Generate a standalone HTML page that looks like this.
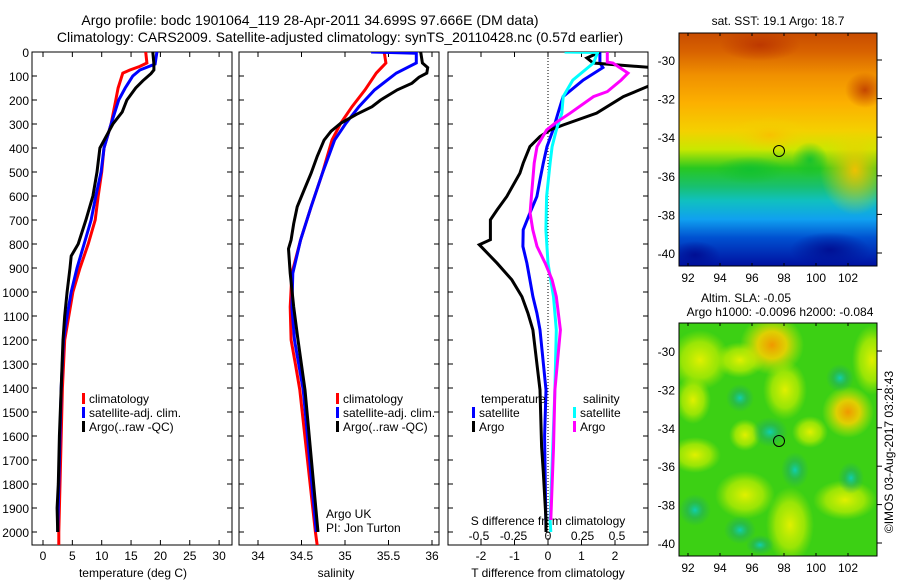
<!DOCTYPE html>
<html><head><meta charset="utf-8">
<style>
html,body{margin:0;padding:0;background:#fff;}
svg{display:block;font-family:"Liberation Sans",sans-serif;}
text{fill:#000;}
</style></head>
<body>
<svg id="fig" width="900" height="580" viewBox="0 0 900 580" xmlns="http://www.w3.org/2000/svg">
<defs>
<linearGradient id="sstg" x1="0" y1="0" x2="0" y2="1">
<stop offset="0" stop-color="#c84c00"/><stop offset="0.08" stop-color="#d86200"/>
<stop offset="0.18" stop-color="#f09000"/><stop offset="0.3" stop-color="#fcb000"/>
<stop offset="0.42" stop-color="#f4d000"/><stop offset="0.5" stop-color="#c8e800"/>
<stop offset="0.58" stop-color="#28c820"/><stop offset="0.66" stop-color="#18c070"/>
<stop offset="0.72" stop-color="#10c0c0"/><stop offset="0.8" stop-color="#10a0f0"/>
<stop offset="0.88" stop-color="#0050d0"/><stop offset="1" stop-color="#0010a0"/>
</linearGradient>
<radialGradient id="ylw"><stop offset="0" stop-color="#e0f000" stop-opacity="1"/><stop offset="0.6" stop-color="#c0ee00" stop-opacity="0.7"/><stop offset="1" stop-color="#a0e800" stop-opacity="0"/></radialGradient>
<radialGradient id="org"><stop offset="0" stop-color="#f09800" stop-opacity="1"/><stop offset="0.45" stop-color="#f0d000" stop-opacity="0.9"/><stop offset="1" stop-color="#d0f000" stop-opacity="0"/></radialGradient>
<radialGradient id="teal"><stop offset="0" stop-color="#10d0b0" stop-opacity="1"/><stop offset="0.5" stop-color="#20b060" stop-opacity="0.6"/><stop offset="1" stop-color="#20b060" stop-opacity="0"/></radialGradient>
<radialGradient id="ylsst"><stop offset="0" stop-color="#f8c000" stop-opacity="0.95"/><stop offset="1" stop-color="#f0d800" stop-opacity="0"/></radialGradient>
<radialGradient id="grsst"><stop offset="0" stop-color="#10c030" stop-opacity="0.9"/><stop offset="1" stop-color="#10c030" stop-opacity="0"/></radialGradient>
<radialGradient id="rdsst"><stop offset="0" stop-color="#b83000" stop-opacity="0.8"/><stop offset="1" stop-color="#b83000" stop-opacity="0"/></radialGradient>
<radialGradient id="dbsst"><stop offset="0" stop-color="#000c90" stop-opacity="0.9"/><stop offset="1" stop-color="#000c90" stop-opacity="0"/></radialGradient>
<clipPath id="c1"><rect x="32" y="52" width="200" height="493"/></clipPath>
<clipPath id="c2"><rect x="239" y="52" width="200" height="493"/></clipPath>
<clipPath id="c3"><rect x="448" y="52" width="200" height="493"/></clipPath>
<clipPath id="cm1"><rect x="679" y="33" width="198" height="233"/></clipPath>
<clipPath id="cm2"><rect x="679" y="323" width="198" height="233"/></clipPath>
</defs>

<text x="310" y="25" font-size="14" text-anchor="middle">Argo profile: bodc 1901064_119 28-Apr-2011 34.699S 97.666E (DM data)</text>
<text x="340" y="42" font-size="14" text-anchor="middle">Climatology: CARS2009. Satellite-adjusted climatology: synTS_20110428.nc (0.57d earlier)</text>

<g>
<g clip-path="url(#cm1)">
<rect x="679" y="33" width="198" height="233" fill="url(#sstg)"/>
<ellipse cx="855" cy="170" rx="35" ry="45" fill="url(#ylsst)"/>
<ellipse cx="770" cy="135" rx="40" ry="18" fill="url(#ylsst)"/>
<ellipse cx="750" cy="170" rx="35" ry="14" fill="url(#grsst)"/>
<ellipse cx="810" cy="160" rx="18" ry="18" fill="url(#grsst)"/>
<ellipse cx="760" cy="45" rx="40" ry="16" fill="url(#rdsst)"/>
<ellipse cx="865" cy="90" rx="20" ry="18" fill="url(#rdsst)"/>
<ellipse cx="830" cy="250" rx="40" ry="18" fill="url(#dbsst)"/>
<ellipse cx="695" cy="255" rx="25" ry="14" fill="url(#dbsst)"/>
</g>
<rect x="679" y="33" width="198" height="233" fill="none" stroke="#000"/>
<circle cx="779" cy="151" r="5.5" fill="none" stroke="#000"/>
<text x="778" y="25" font-size="12" text-anchor="middle">sat. SST: 19.1 Argo: 18.7</text>
</g>
<g>
<g clip-path="url(#cm2)">
<rect x="679" y="323" width="198" height="233" fill="#3cd014"/>
<ellipse cx="700" cy="360" rx="30" ry="30" fill="url(#ylw)"/>
<ellipse cx="740" cy="360" rx="25" ry="18" fill="url(#ylw)"/>
<ellipse cx="872" cy="360" rx="20" ry="35" fill="url(#ylw)"/>
<ellipse cx="785" cy="390" rx="22" ry="30" fill="url(#ylw)"/>
<ellipse cx="772" cy="345" rx="32" ry="30" fill="url(#org)"/>
<ellipse cx="848" cy="412" rx="26" ry="26" fill="url(#org)"/>
<ellipse cx="693" cy="400" rx="18" ry="24" fill="url(#ylw)"/>
<ellipse cx="695" cy="455" rx="26" ry="18" fill="url(#ylw)"/>
<ellipse cx="745" cy="495" rx="30" ry="24" fill="url(#ylw)"/>
<ellipse cx="790" cy="525" rx="24" ry="38" fill="url(#ylw)"/>
<ellipse cx="845" cy="500" rx="32" ry="20" fill="url(#ylw)"/>
<ellipse cx="810" cy="432" rx="18" ry="16" fill="url(#ylw)"/>
<ellipse cx="745" cy="435" rx="16" ry="16" fill="url(#ylw)"/>
<ellipse cx="770" cy="432" rx="18" ry="15" fill="url(#teal)"/>
<ellipse cx="795" cy="470" rx="14" ry="18" fill="url(#teal)"/>
<ellipse cx="851" cy="478" rx="13" ry="16" fill="url(#teal)"/>
<ellipse cx="740" cy="398" rx="14" ry="14" fill="url(#teal)"/>
<ellipse cx="840" cy="378" rx="14" ry="14" fill="url(#teal)"/>
<ellipse cx="740" cy="530" rx="16" ry="14" fill="url(#teal)"/>
<ellipse cx="695" cy="510" rx="16" ry="16" fill="url(#teal)"/>
<ellipse cx="760" cy="545" rx="14" ry="10" fill="url(#teal)"/>
</g>
<rect x="679" y="323" width="198" height="233" fill="none" stroke="#000"/>
<circle cx="779" cy="441" r="5.5" fill="none" stroke="#000"/>
<text x="746" y="302" font-size="12" text-anchor="middle">Altim. SLA: -0.05</text>
<text x="780" y="316" font-size="12" text-anchor="middle">Argo h1000: -0.0096 h2000: -0.084</text>
</g>
<text transform="translate(893,452) rotate(-90)" font-size="12" text-anchor="middle">©IMOS 03-Aug-2017 03:28:43</text>

<g id="plots"></g>
</svg>

<script>
const depthTicks = [0,100,200,300,400,500,600,700,800,900,1000,1100,1200,1300,1400,1500,1600,1700,1800,1900,2000];
const tempTicks = [0,5,10,15,20,25,30];
const salTicks = [34,34.5,35,35.5,36];
const salTickLabels = ["34","34.5","35","35.5","36"];
const dTTicks = [-2,-1,0,1,2];
const dSTicks = [-0.5,-0.25,0,0.25,0.5];
const dSTickLabels = ["-0.5","-0.25","0","0.25","0.5"];
const latTicks = [-30,-32,-34,-36,-38,-40];
const lonTicks = [92,94,96,98,100,102];

const tClimDepth = [0,46,60,75,88,150,200,300,400,500,600,700,800,900,1000,1100,1200,1400,1500,1700,2000,2055];
const tClim      = [17.5,17.7,16.5,14.8,13.6,12.8,12.4,11.6,10.4,10.0,9.4,8.9,7.7,6.3,5.1,4.4,3.7,3.3,3.2,3.0,2.7,2.7];
const tSatDepth = [0,50,75,100,150,200,300,400,500,600,700,800,900,1000,1100,1200,1400,1600,1800,2000];
const tSat      = [19.4,19.1,16.5,15.3,14.0,12.9,11.6,10.4,9.9,9.0,8.2,7.0,5.8,4.8,4.1,3.5,3.1,2.9,2.7,2.5];
const tArgoDepth = [0,50,75,90,120,150,200,250,300,400,500,600,700,800,850,900,1000,1100,1200,1400,1600,1800,1900,2000];
const tArgo      = [18.7,18.9,18.9,18.4,17.0,15.8,14.3,13.5,11.9,9.7,9.2,8.5,7.3,6.0,4.8,4.6,4.1,3.7,3.4,3.1,2.8,2.6,2.4,2.5];

const sClimDepth = [0,46,88,158,228,297,367,505,645,783,922,1062,1200,1300,1408,2000,2055];
const sClim      = [35.45,35.47,35.36,35.23,35.08,34.95,34.85,34.74,34.61,34.49,34.39,34.37,34.38,34.43,34.48,34.66,34.68];
const sSatDepth = [0,5,46,88,158,228,297,367,505,645,783,922,1062,1200,1408,2000];
const sSat      = [35.3,35.82,35.82,35.59,35.34,35.16,35.01,34.88,34.74,34.61,34.49,34.40,34.39,34.42,34.52,34.67];
const sArgoDepth = [0,46,65,88,105,130,158,200,228,260,297,330,367,435,505,575,645,715,783,820,922,1062,1200,1408,2000];
const sArgo      = [35.87,35.89,35.95,35.94,35.85,35.77,35.60,35.41,35.31,35.13,34.95,34.84,34.76,34.68,34.61,34.53,34.45,34.41,34.38,34.35,34.37,34.41,34.46,34.54,34.69];

const dTSatDepth = [0,46,65,117,186,255,325,394,463,532,602,671,741,810,880,949,1019,1088,1158,1408,1600,2000];
const dTSat      = [1.55,1.55,1.64,1.05,0.45,0.30,0.15,-0.03,-0.14,-0.24,-0.33,-0.54,-0.74,-0.75,-0.63,-0.54,-0.45,-0.33,-0.24,-0.06,-0.1,-0.06];
const dTArgoDepth = [0,25,46,67,142,186,255,304,325,352,394,463,505,602,658,699,782,803,880,949,1019,1088,1158,1408,1645,1750,1950,2000];
const dTArgo      = [1.55,1.16,1.35,3.3,3.0,2.25,1.45,0.45,0.06,-0.24,-0.54,-0.74,-0.84,-1.23,-1.52,-1.72,-1.72,-2.05,-1.52,-1.08,-0.78,-0.60,-0.45,-0.24,-0.19,-0.14,-0.06,-0.06];
const dSSatDepth = [0,2,46,117,186,255,325,394,463,602,741,880,1019,1158,1408,1950,2000];
const dSSat      = [0.12,0.36,0.33,0.18,0.11,0.10,0.06,0.03,0.015,-0.01,-0.015,0,0.04,0.06,0.05,0.015,0.02];
const dSArgoDepth = [0,42,46,88,117,165,186,255,297,325,394,463,602,671,741,810,880,949,1019,1158,1408,1650,1950];
const dSArgo      = [0.43,0.43,0.47,0.58,0.53,0.43,0.33,0.16,0.05,-0.01,-0.08,-0.10,-0.12,-0.13,-0.11,-0.08,-0.02,0.03,0.06,0.09,0.05,0.04,0.02];

const Y0 = 52, YS = 0.24, YB = 545;
const yD = d => Y0 + d*YS;
const xT = t => 43 + t*5.87;
const xS = s => 258 + (s-34)*87;
const xdT = v => 548 + v*33.5;
const xdS = v => 548 + v*138;
const yLat1 = l => 60 + (-30 - l)*19.3;
const yLat2 = l => 351 + (-30 - l)*19.2;
const xLon = l => 688 + (l-92)*16;

const NS = "http://www.w3.org/2000/svg";
const root = document.getElementById('plots');
function mk(tag, attrs, parent){
  const e = document.createElementNS(NS, tag);
  for (const k in attrs) e.setAttribute(k, attrs[k]);
  (parent||root).appendChild(e);
  return e;
}
function txt(x,y,s,size,anchor,parent){
  const t = mk('text',{x:x,y:y,'font-size':size,'text-anchor':anchor||'middle'},parent);
  t.textContent = s;
  return t;
}
function line(x1,y1,x2,y2,parent,extra){
  const a = {x1:x1,y1:y1,x2:x2,y2:y2,stroke:'#000','stroke-width':1};
  if (extra) for (const k in extra) a[k]=extra[k];
  return mk('line',a,parent);
}
function series(depths, vals, xf, color, clip, name){
  const pts = depths.map((d,i)=> xf(vals[i]).toFixed(1)+','+yD(d).toFixed(1)).join(' ');
  const p = mk('polyline',{points:pts,fill:'none',stroke:color,'stroke-width':3,'stroke-linejoin':'miter','clip-path':'url(#'+clip+')'});
  
  
  return p;
}
function frame(x, name){
  const r = mk('rect',{x:x,y:Y0,width:200,height:YB-Y0,fill:'none',stroke:'#000','stroke-width':1});
  
  
}
function legendEntry(x,y,color,label,name){
  const g = mk('g',{});
  
  
  mk('rect',{x:x,y:y-10,width:3,height:11,fill:color},g);
  txt(x+7,y,label,12,'start',g);
}

frame(32,'temperature-panel');
const yax = mk('g',{});


depthTicks.forEach(d=>{
  line(32,yD(d),37,yD(d),yax);
  line(227,yD(d),232,yD(d),yax);
  txt(29,yD(d)+5,String(d),12,'end',yax);
});
const xax1 = mk('g',{});


tempTicks.forEach(t=>{
  line(xT(t),YB,xT(t),YB-5,xax1); line(xT(t),Y0,xT(t),Y0+5,xax1);
  txt(xT(t),560,String(t),12,'middle',xax1);
});
txt(133,577,'temperature (deg C)',12,'middle',xax1);
series(tClimDepth,tClim,xT,'#ff0000','c1','temp-climatology-line');
series(tSatDepth,tSat,xT,'#0000ff','c1','temp-satellite-line');
series(tArgoDepth,tArgo,xT,'#000000','c1','temp-argo-line');
legendEntry(82,403,'#ff0000','climatology','legend-climatology-1');
legendEntry(82,417,'#0000ff','satellite-adj. clim.','legend-satellite-1');
legendEntry(82,431,'#000000','Argo(..raw -QC)','legend-argo-1');

frame(239,'salinity-panel');
const xax2 = mk('g',{});


salTicks.forEach((s,i)=>{
  line(xS(s),YB,xS(s),YB-5,xax2); line(xS(s),Y0,xS(s),Y0+5,xax2);
  txt(xS(s),560,salTickLabels[i],12,'middle',xax2);
});
depthTicks.forEach(d=>{ line(239,yD(d),244,yD(d),xax2); line(434,yD(d),439,yD(d),xax2); });
txt(336,577,'salinity',12,'middle',xax2);
series(sClimDepth,sClim,xS,'#ff0000','c2','sal-climatology-line');
series(sSatDepth,sSat,xS,'#0000ff','c2','sal-satellite-line');
series(sArgoDepth,sArgo,xS,'#000000','c2','sal-argo-line');
legendEntry(336,403,'#ff0000','climatology','legend-climatology-2');
legendEntry(336,417,'#0000ff','satellite-adj. clim.','legend-satellite-2');
legendEntry(336,431,'#000000','Argo(..raw -QC)','legend-argo-2');
const pi = mk('g',{});


txt(326,518,'Argo UK',12,'start',pi);
txt(326,532,'PI: Jon Turton',12,'start',pi);

frame(448,'difference-panel');
const xax3 = mk('g',{});


dTTicks.forEach(v=>{
  line(xdT(v),YB,xdT(v),YB-5,xax3); line(xdT(v),Y0,xdT(v),Y0+5,xax3);
  txt(xdT(v),560,String(v),12,'middle',xax3);
});
depthTicks.forEach(d=>{ line(448,yD(d),453,yD(d),xax3); line(643,yD(d),648,yD(d),xax3); });
txt(548,577,'T difference from climatology',12,'middle',xax3);
const sax = mk('g',{});


line(548,Y0,548,YB,sax,{'stroke-dasharray':'1,2'});
series(dTSatDepth,dTSat,xdT,'#0000ff','c3','dT-satellite-line');
series(dTArgoDepth,dTArgo,xdT,'#000000','c3','dT-argo-line');
series(dSSatDepth,dSSat,xdS,'#00ffff','c3','dS-satellite-line');
series(dSArgoDepth,dSArgo,xdS,'#ff00ff','c3','dS-argo-line');
txt(548,525,'S difference from climatology',12,'middle',sax);
dSTicks.forEach((v,i)=>{ txt(xdS(v),540,dSTickLabels[i],12,'middle',sax); });
txt(481,403,'temperature',12,'start');
legendEntry(472,417,'#0000ff','satellite','legend-dT-satellite');
legendEntry(472,431,'#000000','Argo','legend-dT-argo');
txt(583,403,'salinity',12,'start');
legendEntry(573,417,'#00ffff','satellite','legend-dS-satellite');
legendEntry(573,431,'#ff00ff','Argo','legend-dS-argo');

function mapAxes(yf, top, bottom, name){
  const g = mk('g',{});
  
  
  latTicks.forEach(l=>{
    const y = yf(l);
    line(877,y,882,y,g);
    txt(675,y+5,String(l),12,'end',g);
  });
  lonTicks.forEach(l=>{
    const x = xLon(l);
    line(x,top,x,top+3,g); line(x,bottom,x,bottom-3,g);
    txt(x,bottom+16,String(l),12,'middle',g);
  });
}
mapAxes(yLat1,33,266,'sst-map-axes');
mapAxes(yLat2,323,556,'sla-map-axes');
</script>
</body></html>
